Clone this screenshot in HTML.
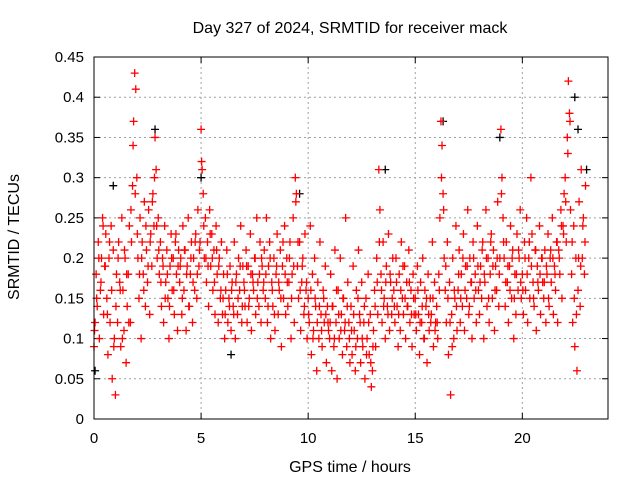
<!DOCTYPE html>
<html><head><meta charset="utf-8"><style>
body{margin:0;background:#fff}
svg{display:block;font-family:"Liberation Sans",sans-serif}
</style></head><body>
<svg id="chart" width="640" height="480">
<rect width="640" height="480" fill="#fff"/>
<text x="350" y="33" font-size="16" text-anchor="middle">Day 327 of 2024, SRMTID for receiver mack</text>
<text x="350" y="472" font-size="16" text-anchor="middle">GPS time / hours</text>
<text x="19" y="237" font-size="16" text-anchor="middle" transform="rotate(-90 19 237)">SRMTID / TECUs</text>
<g id="grid"></g>
<g id="ticks"></g>
<g id="marks"></g>
<rect x="94" y="57" width="514" height="362" fill="none" stroke="#000" stroke-width="1"/>
</svg>
<script>
const xTicks=[0,5,10,15,20];
const yTicks=[0,0.05,0.1,0.15,0.2,0.25,0.3,0.35,0.4,0.45];
const yTickLabels=["0","0.05","0.1","0.15","0.2","0.25","0.3","0.35","0.4","0.45"];
const sampleStep=0.05;
const redValues=[
.09,.12,.18,.14,.22,.1,.16,.2,.25,.13,.19,.23,.15,.08,.2,.12,.24,.05,.21,.1,
.03,.18,.12,.22,.17,.09,.25,.16,.11,.2,.07,.14,.18,.24,.12,.22,.29,.37,.43,.41,
.3,.2,.15,.25,.1,.22,.18,.27,.14,.21,.17,.26,.13,.23,.19,.28,.24,.35,.31,.2,
.25,.18,.22,.14,.2,.12,.24,.17,.21,.15,.1,.19,.23,.16,.2,.13,.22,.18,.11,.21,
.17,.2,.13,.24,.16,.21,.11,.19,.25,.14,.18,.22,.12,.2,.16,.23,.15,.26,.19,.22,
.36,.31,.28,.2,.25,.17,.22,.14,.26,.19,.23,.16,.21,.13,.24,.18,.12,.2,.15,.22,
.13,.18,.1,.16,.21,.12,.15,.19,.11,.17,.14,.22,.1,.18,.13,.2,.16,.24,.12,.19,
.17,.14,.21,.12,.19,.15,.23,.11,.18,.16,.2,.13,.25,.17,.14,.22,.12,.19,.16,.21,
.15,.25,.12,.19,.22,.1,.17,.14,.2,.11,.18,.23,.13,.16,.21,.09,.19,.15,.24,.13,
.2,.14,.17,.22,.1,.18,.25,.12,.3,.28,.19,.15,.22,.11,.17,.2,.13,.23,.16,.1,
.15,.12,.24,.08,.18,.11,.2,.14,.06,.17,.1,.22,.13,.09,.16,.12,.19,.07,.14,.11,
.1,.18,.06,.14,.09,.21,.12,.05,.16,.1,.2,.13,.08,.15,.11,.25,.09,.17,.12,.07,
.14,.08,.19,.11,.06,.16,.1,.21,.13,.07,.17,.09,.12,.05,.15,.1,.18,.08,.13,.04,
.06,.11,.16,.09,.2,.13,.31,.26,.18,.12,.22,.15,.1,.19,.14,.23,.11,.17,.13,.2,
.16,.12,.2,.14,.09,.18,.11,.22,.15,.13,.19,.1,.17,.14,.21,.12,.16,.09,.18,.13,
.15,.11,.19,.13,.08,.17,.12,.2,.1,.16,.14,.07,.18,.11,.15,.13,.22,.09,.17,.12,
.14,.1,.18,.25,.37,.34,.28,.2,.16,.12,.22,.08,.17,.03,.13,.2,.1,.15,.24,.11,
.16,.21,.12,.18,.14,.23,.11,.19,.15,.26,.13,.2,.17,.1,.22,.15,.18,.12,.24,.16,
.13,.19,.15,.22,.1,.17,.26,.14,.2,.12,.18,.23,.15,.21,.11,.19,.16,.27,.14,.2,
.36,.3,.25,.2,.14,.22,.17,.12,.19,.24,.15,.21,.1,.18,.13,.23,.16,.2,.26,.15,
.18,.13,.22,.16,.25,.12,.2,.15,.3,.23,.17,.14,.21,.11,.19,.16,.24,.13,.2,.17,
.15,.21,.12,.18,.23,.14,.2,.17,.25,.13,.19,.16,.22,.12,.21,.18,.26,.15,.24,.28,
.3,.22,.35,.42,.38,.26,.18,.12,.24,.09,.2,.06,.16,.27,.14,.31,.2,.25,.18,.29];
const redValues2=[
.11,.15,.2,.17,.24,.19,.13,.22,.16,.09,
.14,.2,.16,.1,.21,.18,.12,.26,.34,.28,
.23,.18,.2,.16,.24,.19,.22,.27,.3,.24,
.21,.17,.19,.15,.18,.14,.2,.16,.23,.19,
.19,.15,.21,.18,.14,.2,.17,.22,.18,.21,
.32,.24,.2,.19,.23,.2,.17,.21,.19,.16,
.15,.13,.18,.14,.16,.13,.17,.15,.19,.14,
.16,.19,.14,.18,.17,.2,.15,.18,.2,.17,
.18,.14,.2,.16,.13,.19,.17,.15,.22,.18,
.17,.2,.15,.19,.27,.22,.16,.19,.14,.17,
.13,.16,.1,.15,.12,.14,.11,.15,.13,.12,
.12,.14,.1,.16,.13,.11,.15,.12,.14,.1,
.11,.13,.09,.15,.12,.1,.14,.08,.12,.07,
.09,.14,.17,.22,.16,.14,.17,.13,.18,.15,
.14,.17,.13,.16,.19,.15,.14,.17,.13,.15,
.13,.16,.12,.14,.1,.15,.13,.12,.15,.11,
.12,.16,.3,.26,.19,.15,.12,.09,.16,.14,
.18,.15,.2,.16,.19,.14,.17,.2,.16,.19,
.17,.21,.18,.2,.15,.22,.19,.16,.2,.18,
.28,.22,.17,.19,.16,.2,.15,.18,.21,.17,
.16,.2,.18,.22,.19,.15,.21,.17,.18,.2,
.17,.19,.15,.21,.2,.18,.22,.2,.24,.23,
.27,.33,.37,.22,.15,.13,.2,.19,.24,.22];
const blackTimes=[0.05,0.9,2.85,5.0,9.6,13.6,16.3,18.95,22.45,22.6,23.0,6.4];
const blackValues=[0.06,0.29,0.36,0.3,0.28,0.31,0.37,0.35,0.4,0.36,0.31,0.08];
const X0=94,X1=608,Y0=419,Y1=57,XMAX=24,YMAX=0.45;
const sx=t=>X0+(t/XMAX)*(X1-X0);
const sy=v=>Y0-(v/YMAX)*(Y0-Y1);
const NS="http://www.w3.org/2000/svg";
const grid=document.getElementById('grid'),ticks=document.getElementById('ticks'),marks=document.getElementById('marks');
function mk(tag,attrs,parent){const e=document.createElementNS(NS,tag);for(const k in attrs)e.setAttribute(k,attrs[k]);parent.appendChild(e);return e;}
xTicks.forEach(t=>{
  const x=sx(t);
  if(t>0){const g=mk('line',{x1:x,x2:x,y1:Y1,y2:Y0,stroke:'#a0a0a0','stroke-dasharray':'2,3'},grid);
  
  }
  mk('line',{x1:x,x2:x,y1:Y0,y2:Y0-6,stroke:'#000'},ticks);
  mk('line',{x1:x,x2:x,y1:Y1,y2:Y1+6,stroke:'#000'},ticks);
  const l=mk('text',{x:x,y:Y0+24,'font-size':15,'text-anchor':'middle'},ticks);l.textContent=t;
  
  
});
yTicks.forEach((v,i)=>{
  const y=sy(v);
  if(v>0&&v<YMAX){const g=mk('line',{x1:X0,x2:X1,y1:y,y2:y,stroke:'#a0a0a0','stroke-dasharray':'2,3'},grid);
  
  }
  mk('line',{x1:X0,x2:X0+6,y1:y,y2:y,stroke:'#000'},ticks);
  mk('line',{x1:X1,x2:X1-6,y1:y,y2:y,stroke:'#000'},ticks);
  const l=mk('text',{x:X0-10,y:y+5,'font-size':15,'text-anchor':'end'},ticks);l.textContent=yTickLabels[i];
  
  
});
function plus(t,v,color,name){
  const x=sx(t),y=sy(v);
  const p=mk('path',{d:`M${x-4},${y}H${x+4}M${x},${y-4}V${y+4}`,stroke:color,'stroke-width':1.3,fill:'none'},marks);
  
  
}
blackTimes.forEach((t,i)=>plus(t,blackValues[i],'#000','black-point'));
redValues.forEach((v,i)=>plus(i*sampleStep,v,'#ff0000','red-point'));
redValues2.forEach((v,i)=>plus(0.025+i*0.1,v,'#ff0000','red-point'));
</script>
</body></html>
